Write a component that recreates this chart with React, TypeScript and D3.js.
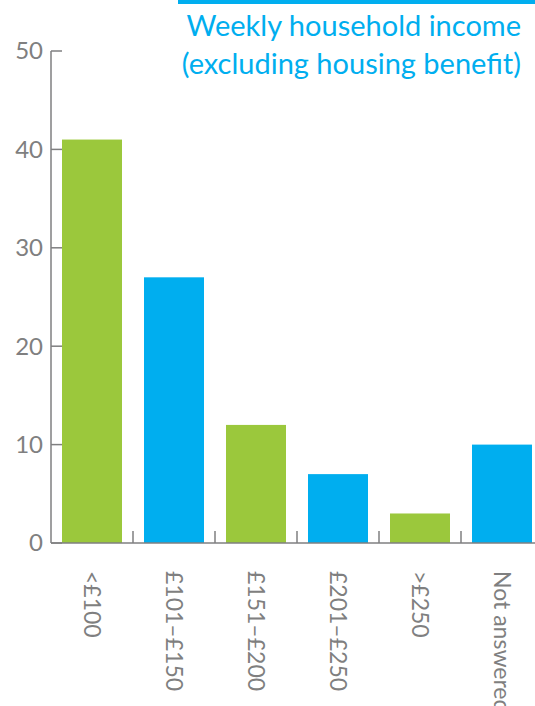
import React from "react";
import * as d3 from "d3";

const categories = ["<£100", "£101–£150", "£151–£200", "£201–£250", ">£250", "Not answered"];
const values = [41, 27, 12, 7, 3, 10];
const barColors = ["#9bc83c", "#00aeef", "#9bc83c", "#00aeef", "#9bc83c", "#00aeef"];
const yTicks = [0, 10, 20, 30, 40, 50];
const titleLines = ["Weekly household income", "(excluding housing benefit)"];

const W = 535;
const H = 706;
const FONT = "Lato, 'Open Sans', sans-serif";
const GRAY = "#7f7f80";

export default function App() {
  const x0 = 51;
  const step = 82;
  const x = d3
    .scaleBand<string>()
    .domain(categories)
    .range([x0, x0 + step * categories.length])
    .paddingInner(22 / 82)
    .paddingOuter(11 / 82);
  const y = d3.scaleLinear().domain([0, 50]).range([543, 51]);
  const band = d3
    .scaleBand<string>()
    .domain(categories)
    .range([x0, x0 + step * categories.length]);

  return (
    <svg
      width={W}
      height={H}
      style={{ position: "absolute", left: 0, top: 0, background: "#fff" }}
    >
      <rect x={178} y={0} width={W - 178} height={4} fill="#00aeef" />
      {titleLines.map((t, i) => (
        <text
          key={i}
          x={521}
          y={36 + i * 38}
          textAnchor="end"
          fill="#00aeef"
          fontFamily={FONT}
          fontSize={29}
          fontWeight={400}
        >
          {t}
        </text>
      ))}
      {categories.map((c, i) => (
        <rect
          key={c}
          x={x(c)}
          y={y(values[i])}
          width={x.bandwidth()}
          height={y(0) - y(values[i])}
          fill={barColors[i]}
        />
      ))}
      <line x1={x0} x2={x0} y1={y(50)} y2={y(0)} stroke={GRAY} strokeWidth={1.5} />
      <line x1={x0} x2={W} y1={y(0)} y2={y(0)} stroke={GRAY} strokeWidth={1.5} />
      {yTicks.map((t) => (
        <g key={t}>
          <line x1={x0} x2={x0 + 11} y1={y(t)} y2={y(t)} stroke={GRAY} strokeWidth={1.5} />
          <text
            x={x0 - 8}
            y={y(t)}
            dy="0.35em"
            textAnchor="end"
            fill={GRAY}
            fontFamily={FONT}
            fontSize={24}
            fontWeight={400}
          >
            {t}
          </text>
        </g>
      ))}
      {categories.slice(1).map((c) => (
        <line
          key={c}
          x1={band(c)}
          x2={band(c)}
          y1={y(0)}
          y2={y(0) - 12}
          stroke={GRAY}
          strokeWidth={1.5}
        />
      ))}
      {categories.map((c) => {
        const cx = (x(c) as number) + x.bandwidth() / 2;
        return (
          <text
            key={c}
            transform={`translate(${cx},571) rotate(90)`}
            dy="0.35em"
            textAnchor="start"
            fill={GRAY}
            fontFamily={FONT}
            fontSize={23}
            fontWeight={400}
          >
            {c}
          </text>
        );
      })}
    </svg>
  );
}
